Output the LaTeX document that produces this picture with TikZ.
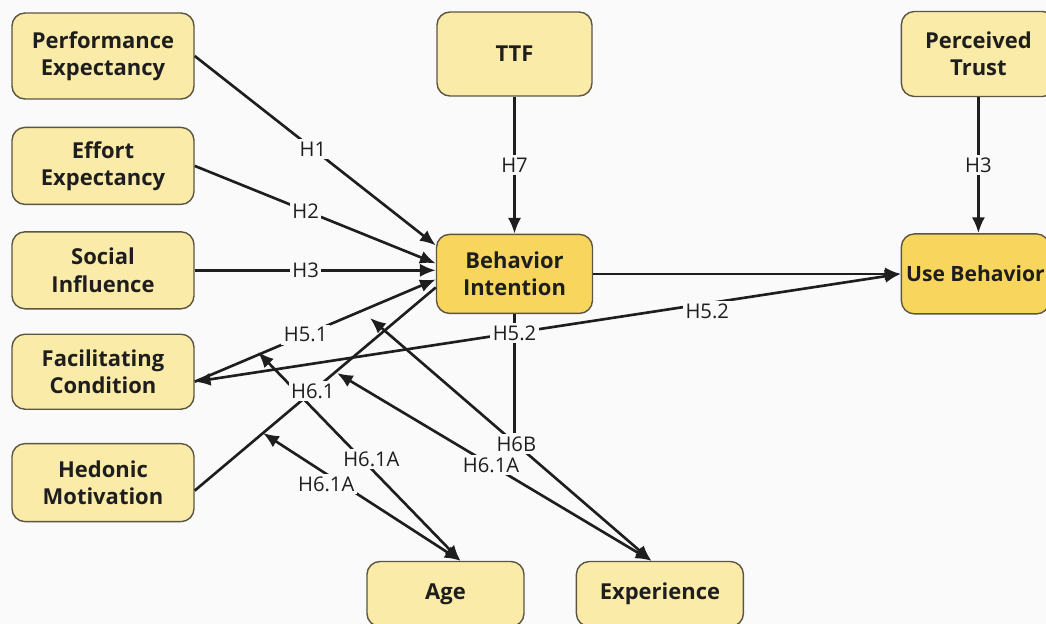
\documentclass[tikz,border=0pt]{standalone}
\usepackage{fontspec}
\setmainfont{Open Sans}[BoldFont={Open Sans Bold}]
\usepackage{tikz}
\usetikzlibrary{arrows.meta,backgrounds,calc,positioning}
\definecolor{ConstructFill}{HTML}{FBEBA8}
\definecolor{CoreFill}{HTML}{F8D65E}
\definecolor{BoxEdge}{HTML}{5B5542}
\definecolor{InkDark}{HTML}{1E1E1E}
\definecolor{PaperGray}{HTML}{FAFAFA}

\begin{document}
\begin{tikzpicture}[
    font=\fontsize{11.5}{13}\selectfont,
    >={Latex[length=9pt,width=7.5pt]},
    line/.style={line width=1.5pt,draw=InkDark},
    link/.style={line,->},
    moder/.style={line,<->},
    construct/.style={draw=BoxEdge,fill=ConstructFill,rounded corners=2.6mm,
      line width=0.8pt,minimum width=3.64cm,align=center,
      font=\bfseries\fontsize{12.5}{15.5}\selectfont,text=InkDark},
    core/.style={construct,fill=CoreFill},
    hyp/.style={fill=PaperGray,inner sep=1.5pt,text=InkDark}
  ]
    \useasboundingbox (0,0) rectangle (20.92,-12.48);

    % Predictor column.
    \node[construct,minimum height=1.72cm] (pe) at (2.06,-1.12)
      {Performance\\Expectancy};
    \node[construct,minimum height=1.54cm,below=5.4mm of pe] (ee)
      {Effort\\Expectancy};
    \node[construct,minimum height=1.54cm,below=5.2mm of ee] (si)
      {Social\\Influence};
    \node[construct,minimum height=1.50cm,below=4.8mm of si] (fc)
      {Facilitating\\Condition};
    \node[construct,minimum height=1.56cm,below=6.6mm of fc] (hm)
      {Hedonic\\Motivation};

    % Intention and use.
    \node[construct,minimum width=3.10cm,minimum height=1.68cm] (ttf)
      at (10.29,-1.08) {TTF};
    \node[core,minimum width=3.12cm,minimum height=1.58cm,below=27.4mm of ttf] (bi)
      {Behavior\\Intention};
    \node[construct,minimum width=3.08cm,minimum height=1.70cm,right=61.6mm of ttf] (pt)
      {Perceived\\Trust};
    \node[core,font=\bfseries\fontsize{12}{15}\selectfont,inner xsep=2pt,
      minimum width=2.96cm,minimum height=1.60cm,below=27.2mm of pt,xshift=-0.6mm] (ub)
      {Use Behavior};

    % Moderators.
    \node[construct,minimum width=3.14cm,minimum height=1.30cm] (age)
      at (8.91,-11.88) {Age};
    \node[construct,minimum width=3.34cm,minimum height=1.30cm,right=10.2mm of age] (exp)
      {Experience};

    \coordinate (ageTipA) at (5.26,-8.66);
    \coordinate (ageTipB) at (5.16,-7.04);
    \coordinate (expTipA) at (7.40,-6.36);
    \coordinate (expTipB) at (6.74,-7.46);

    % Direct paths.
    \draw[link] (pe.east) -- node[hyp,pos=0.49]{H1} ([yshift=5.7mm]bi.west);
    \draw[link] (ee.east) -- node[hyp,pos=0.46]{H2} ([yshift=2.1mm]bi.west);
    \draw[link] (si.east) -- node[hyp,pos=0.46]{H3} (si.east -| bi.west);
    \draw[link] (ttf) -- node[hyp]{H7} (bi);
    \draw[link] (pt) -- node[hyp]{H3} (pt |- ub.north);
    \draw[link] (bi) -- (bi -| ub.west);

    % Moderating paths.
    \draw[moder] ([xshift=3mm]age.north) -- node[hyp,pos=0.44,yshift=2mm]{H6.1A} (ageTipB);
    \draw[line] ([yshift=-1.6mm]hm.east) -- node[hyp,pos=0.49]{H6.1} ([yshift=-2.7mm]bi.west);
    \draw[moder] ([xshift=3mm]age.north) -- node[hyp,pos=0.68,yshift=-2mm]{H6.1A} (ageTipA);
    \draw[moder] ([xshift=-1.7mm]exp.north) -- node[hyp,pos=0.48] (h6b) {H6B} (expTipA);
    \draw[moder] ([xshift=-1.7mm]exp.north) -- node[hyp,pos=0.51]{H6.1A} (expTipB);
    \draw[line] (bi.south) -- (bi.south |- h6b.north);
    \draw[link] ([yshift=-2mm]fc.east) -- node[hyp,pos=0.46]{H5.1} ([yshift=-1.1mm]bi.west);
    \draw[moder] ([yshift=-2mm]fc.east) -- node[hyp,pos=0.453]{H5.2}
      node[hyp,pos=0.726,yshift=-1.5mm]{H5.2} (ub.west);

    \begin{scope}[on background layer]
      \fill[PaperGray] (0,0) rectangle (20.92,-12.48);
    \end{scope}
  \end{tikzpicture}
\end{document}
